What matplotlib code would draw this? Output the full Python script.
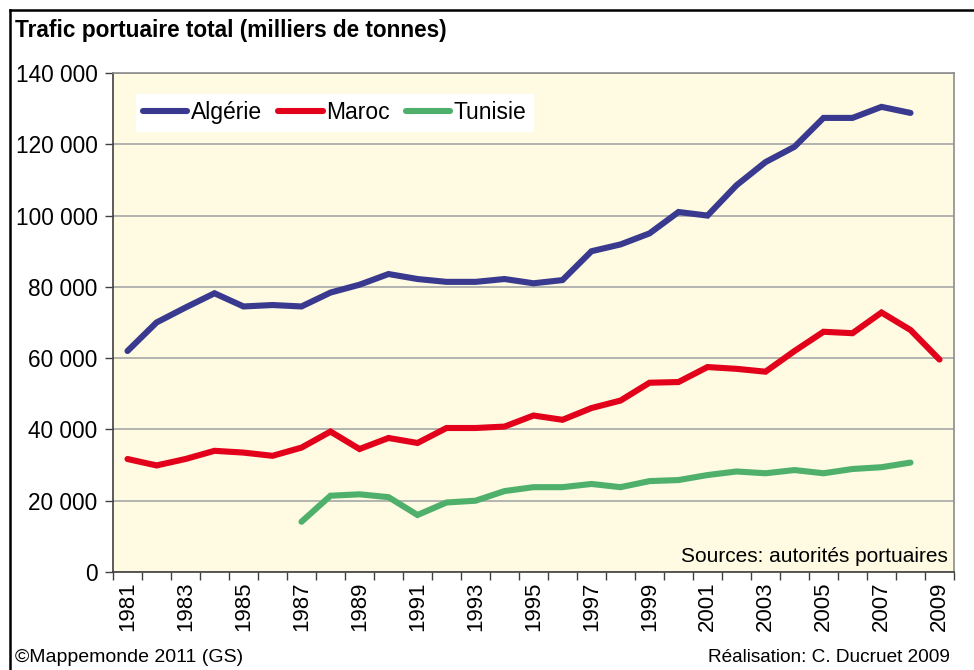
import matplotlib
matplotlib.use("Agg")
import matplotlib.pyplot as plt
from matplotlib.ticker import FuncFormatter, FixedLocator
from matplotlib.lines import Line2D

plt.rcParams['font.family'] = ['Liberation Sans', 'DejaVu Sans']

years = list(range(1981, 2010))
algerie = [62.0, 70.0, 74.2, 78.2, 74.5, 74.9, 74.5, 78.4, 80.6, 83.6, 82.2, 81.4, 81.4, 82.2, 81.0,
           81.9, 90.0, 91.9, 95.0, 101.0, 100.0, 108.5, 115.0, 119.3, 127.4, 127.4, 130.5, 128.8, None]
maroc = [31.7, 29.9, 31.7, 34.0, 33.5, 32.6, 34.9, 39.4, 34.5, 37.6, 36.2, 40.4, 40.4, 40.8, 43.9,
         42.7, 46.0, 48.1, 53.1, 53.3, 57.5, 57.0, 56.2, 62.0, 67.4, 67.0, 72.8, 67.9, 59.6]
tunisie = [None, None, None, None, None, None, 14.1, 21.4, 21.8, 21.0, 16.0, 19.5, 20.0, 22.7, 23.8,
           23.8, 24.7, 23.8, 25.5, 25.8, 27.2, 28.2, 27.7, 28.6, 27.7, 28.9, 29.4, 30.7, None]
series_names = ['Algérie', 'Maroc', 'Tunisie']
colors = ['#393a8f', '#e2001a', '#4fb06c']
yticks = [0, 20000, 40000, 60000, 80000, 100000, 120000, 140000]

fig = plt.figure(figsize=(9.74, 6.70), dpi=100)
ax = fig.add_axes([113/974, 1-572/670, (954-113)/974, (572-73)/670])
ax.set_facecolor('#fefbe2')

idx = list(range(len(years)))
for name, vals, c in zip(series_names, [algerie, maroc, tunisie], colors):
    xs = [i for i, v in zip(idx, vals) if v is not None]
    ys = [v * 1000 for v in vals if v is not None]
    ax.plot(xs, ys, color=c, lw=4.4, solid_capstyle='round', solid_joinstyle='miter', label=name, zorder=3)

ax.set_xlim(-0.5, len(years) - 0.5)
ax.set_ylim(0, 140000)
ax.set_yticks(yticks)
ax.yaxis.set_major_formatter(FuncFormatter(lambda v, p: f"{int(v):,}".replace(',', ' ')))
ax.grid(axis='y', color='#a6a6a6', lw=1.2, zorder=1)
ax.set_axisbelow(True)

# category boundaries ticks, labels every other year at category centres
ax.xaxis.set_major_locator(FixedLocator([i - 0.5 for i in range(len(years) + 1)]))
ax.xaxis.set_major_formatter(FuncFormatter(lambda v, p: ''))
ax.xaxis.set_minor_locator(FixedLocator([i for i in idx if years[i] % 2 == 1]))
ax.set_xticklabels([str(years[i]) for i in idx if years[i] % 2 == 1], minor=True, rotation=90, fontsize=16)
ax.tick_params(axis='x', which='major', length=6, width=1, color='#404040', direction='out')
ax.tick_params(axis='x', which='minor', length=0, pad=7)
ax.tick_params(axis='y', length=6, width=1, color='#404040', labelsize=16.3, pad=5)

for s in ['top', 'right']:
    ax.spines[s].set_color('#8c8c8c')
    ax.spines[s].set_linewidth(1.2)
for s in ['left', 'bottom']:
    ax.spines[s].set_color('#404040')
    ax.spines[s].set_linewidth(1.2)

leg = ax.legend(loc='upper left', bbox_to_anchor=(0.027, 0.957), ncol=3, frameon=True,
                fancybox=False, framealpha=1, edgecolor='white', facecolor='white',
                fontsize=16.5, handlelength=1.95, handletextpad=0.15, columnspacing=0.7,
                borderpad=0.3, borderaxespad=0)
for h in leg.get_lines():
    h.set_linewidth(4.4)

ax.text(0.993, 0.012, 'Sources: autorités portuaires', transform=ax.transAxes, ha='right', va='bottom',
        fontsize=15, zorder=4)

fig.text(15/974, 1-30/670, 'Trafic portuaire total (milliers de tonnes)', fontsize=16.3,
         fontweight='bold', ha='left', va='center')
fig.text(15/974, 1-658/670, '©Mappemonde 2011 (GS)', fontsize=14, ha='left', va='center')
fig.text(950/974, 1-658/670, 'Réalisation: C. Ducruet 2009', fontsize=13.7, ha='right', va='center')

# outer frame (top and left edges visible)
fig.add_artist(Line2D([9.5/974, 1.0], [1-9.5/670, 1-9.5/670], transform=fig.transFigure, color='black', lw=1.8))
fig.add_artist(Line2D([9.5/974, 9.5/974], [0, 1-9.5/670], transform=fig.transFigure, color='black', lw=1.8))

fig.savefig('out.png', dpi=100, facecolor='white')
